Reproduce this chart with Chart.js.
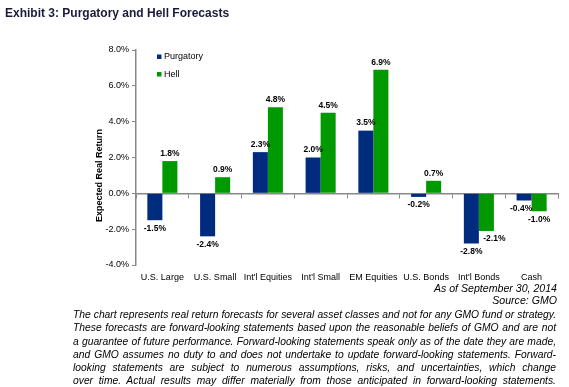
<!DOCTYPE html>
<html><head><meta charset="utf-8">
<script src="https://cdn.jsdelivr.net/npm/chart.js@4.4.1/dist/chart.umd.min.js"></script>
<style>
html,body{margin:0;padding:0;background:#fff;width:569px;height:387px;overflow:hidden;}
#c{position:absolute;left:0;top:0;}
.t{position:absolute;font-family:"Liberation Sans",Arial,sans-serif;color:#000;}
#title{left:5px;top:6px;font-size:12px;font-weight:bold;color:#1a1a3a;}
#asof,#src{right:12px;font-style:italic;font-size:10.6px;}
#asof{top:282px}
#src{top:294px}
#para{left:73px;width:483px;top:308px;font-style:italic;font-size:10.3px;line-height:13.3px;}
#para div{text-align:justify;text-align-last:justify;}
</style>
</head><body>
<canvas id="c" width="569" height="387" style="width:569px;height:387px"></canvas>
<div class="t" id="title">Exhibit 3: Purgatory and Hell Forecasts</div>
<div class="t" id="asof">As of September 30, 2014</div>
<div class="t" id="src">Source: GMO</div>
<div class="t" id="para">
<div>The chart represents real return forecasts for several asset classes and not for any GMO fund or strategy.</div>
<div>These forecasts are forward-looking statements based upon the reasonable beliefs of GMO and are not</div>
<div>a guarantee of future performance. Forward-looking statements speak only as of the date they are made,</div>
<div>and GMO assumes no duty to and does not undertake to update forward-looking statements. Forward-</div>
<div>looking statements are subject to numerous assumptions, risks, and uncertainties, which change</div>
<div>over time. Actual results may differ materially from those anticipated in forward-looking statements.</div>
</div>
<script>
const categories = ["U.S. Large","U.S. Small","Int'l Equities","Int'l Small","EM Equities","U.S. Bonds","Int'l Bonds","Cash"];
const purgatory = [-1.5,-2.4,2.3,2.0,3.5,-0.2,-2.8,-0.4];
const hell = [1.8,0.9,4.8,4.5,6.9,0.7,-2.1,-1.0];
const yTicks = {min:-4, max:8, step:2};
const yTitle = 'Expected Real Return';

const FONT = '"Liberation Sans", Arial, sans-serif';

const valueLabels = {
  id:'valueLabels',
  afterDatasetsDraw(chart){
    const ctx = chart.ctx;
    ctx.save();
    ctx.font = 'bold 8.5px ' + FONT;
    ctx.fillStyle = '#000';
    ctx.textAlign = 'center';
    ctx.textBaseline = 'middle';
    chart.data.datasets.forEach((ds, di) => {
      const meta = chart.getDatasetMeta(di);
      meta.data.forEach((bar, i) => {
        const v = ds.data[i];
        const txt = (v < 0 ? '-' : '') + Math.abs(v).toFixed(1) + '%';
        let x = bar.x, y;
        if (v >= 0) { y = bar.y - 7.5; }
        else {
          y = bar.y + 8;
          const other = chart.data.datasets[1 - di].data[i];
          if (di === 1 && other < v) x += 8;
          if (di === 0 && other < v) x -= 3;
        }
        ctx.fillText(txt, x, y);
      });
    });
    ctx.restore();
  }
};

const insideLegend = {
  id:'insideLegend',
  afterDraw(chart){
    const {ctx, chartArea} = chart;
    ctx.save();
    ctx.font = '9px ' + FONT;
    ctx.textBaseline = 'middle';
    ctx.textAlign = 'left';
    chart.data.datasets.forEach((ds, i) => {
      const y = chartArea.top + 7 + i * 17.5;
      const x = chartArea.left + 21;
      ctx.fillStyle = ds.backgroundColor;
      ctx.fillRect(x, y - 2.5, 4.5, 4.5);
      ctx.fillStyle = '#000';
      ctx.fillText(ds.label, x + 7, y);
    });
    ctx.restore();
  }
};

const yAxisTitle = {
  id:'yAxisTitle',
  afterDraw(chart){
    const {ctx, chartArea} = chart;
    ctx.save();
    ctx.font = 'bold 9px ' + FONT;
    ctx.fillStyle = '#000';
    ctx.textAlign = 'center';
    ctx.textBaseline = 'middle';
    ctx.translate(chartArea.left - 36, (chartArea.top + chartArea.bottom) / 2 + 18);
    ctx.rotate(-Math.PI / 2);
    ctx.fillText(yTitle, 0, 0);
    ctx.restore();
  }
};

new Chart(document.getElementById('c'), {
  type:'bar',
  data:{
    labels: categories,
    datasets:[
      {label:'Purgatory', data: purgatory, backgroundColor:'#002b7f', categoryPercentage:0.57, barPercentage:1.0, xAxisID:'x'},
      {label:'Hell', data: hell, backgroundColor:'#009a00', categoryPercentage:0.57, barPercentage:1.0, xAxisID:'x'}
    ]
  },
  options:{
    responsive:false,
    devicePixelRatio:1,
    animation:false,
    layout:{padding:{left:95, top:50, right:11, bottom:98}},
    plugins:{legend:{display:false}, tooltip:{enabled:false}},
    scales:{
      x:{
        position:'bottom',
        grid:{display:false, drawTicks:false, tickLength:0},
        border:{display:false},
        ticks:{color:'#000', font:{family:FONT, size:9}, padding:7, maxRotation:0, autoSkip:false},
        afterFit(s){ s.height = 24; }
      },
      x0:{
        type:'category',
        position:{y:0},
        offset:true,
        grid:{offset:true, drawOnChartArea:false, drawTicks:true, tickLength:4, color:'#888'},
        border:{color:'#888', width:1.5},
        ticks:{display:false},
        afterFit(s){ s.height = 0; }
      },
      y:{
        min:yTicks.min, max:yTicks.max,
        ticks:{stepSize:yTicks.step, callback:v => v.toFixed(1) + '%', color:'#000', font:{family:FONT, size:9}, padding:3},
        grid:{drawOnChartArea:false, drawTicks:true, tickLength:4, color:'#888'},
        border:{color:'#888', width:1.5},
        title:{display:false},
        afterFit(s){ s.width = 41; }
      }
    }
  },
  plugins:[valueLabels, insideLegend, yAxisTitle]
});
</script>
</body></html>
